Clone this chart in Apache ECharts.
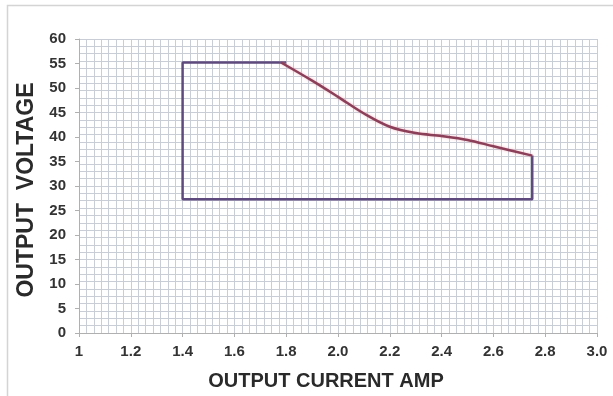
<!DOCTYPE html>
<html>
<head>
<meta charset="utf-8">
<script src="https://cdn.jsdelivr.net/npm/echarts@6/dist/echarts.min.js"></script>
<style>html,body{margin:0;padding:0;background:#fff;}#c{width:613px;height:396px;}</style>
</head>
<body>
<div id="c"></div>
<script>
var xTickLabels = ['1','1.2','1.4','1.6','1.8','2.0','2.2','2.4','2.6','2.8','3.0'];
var yTickLabels = ['0','5','10','15','20','25','30','35','40','45','50','55','60'];
var xAxisName = 'OUTPUT CURRENT AMP';
var yAxisName = 'OUTPUT  VOLTAGE';
// operating envelope: frame (top flat, left, bottom, right)
var frameTop = [[1.8, 55.2], [1.4, 55.2], [1.4, 27.3], [2.75, 27.3], [2.75, 36.2]];
// derating curve
var curve = [[1.78, 55.2], [1.9, 51.5], [2.0, 48.2], [2.1, 44.8], [2.2, 42.1], [2.3, 40.8], [2.4, 40.2], [2.5, 39.4], [2.6, 38.1], [2.75, 36.2]];

var lblFont = "'Liberation Sans',Arial,sans-serif";
var chart = echarts.init(document.getElementById('c'), null, {renderer: 'canvas'});
var gridColor = '#c9cdd6';
chart.setOption({
  animation: false,
  backgroundColor: '#fff',
  graphic: [{type: 'rect', shape: {x: 7.5, y: 5.5, width: 700, height: 500}, style: {fill: 'none', stroke: '#d4d4d4', lineWidth: 1.5}, z: -10}],
  grid: {left: 79, right: 16, top: 39, bottom: 59},
  xAxis: [{
    type: 'value', min: 1, max: 3, interval: 0.2,
    name: xAxisName, nameLocation: 'middle', nameGap: 38,
    nameTextStyle: {fontFamily: lblFont, fontWeight: 'bold', fontSize: 20, color: '#2a2a2a', padding: [0, 24, 0, 0]},
    axisLine: {show: true, lineStyle: {color: '#b0b0b0', width: 1}},
    axisTick: {show: true, length: 4, lineStyle: {color: '#b0b0b0'}},
    axisLabel: {margin: 11, fontFamily: lblFont, fontWeight: 'bold', fontSize: 15, color: '#333',
      formatter: function (v) { var i = Math.round((v - 1) / 0.2); return xTickLabels[i] || ''; }},
    splitLine: {show: false}
  }, {
    type: 'value', min: 1, max: 3, interval: 1 / 35, position: 'bottom',
    axisLine: {show: false}, axisTick: {show: false}, axisLabel: {show: false},
    splitLine: {show: true, lineStyle: {color: gridColor, width: 1}}
  }],
  yAxis: [{
    type: 'value', min: 0, max: 60, interval: 5,
    name: yAxisName, nameLocation: 'middle', nameGap: 34, nameRotate: 90,
    nameTextStyle: {fontFamily: lblFont, fontWeight: 'bold', fontSize: 23, color: '#2a2a2a', padding: [0, 8, 0, 0]},
    axisLine: {show: true, lineStyle: {color: '#b0b0b0', width: 1}},
    axisTick: {show: true, length: 4, lineStyle: {color: '#b0b0b0'}},
    axisLabel: {margin: 13, fontFamily: lblFont, fontWeight: 'bold', fontSize: 15, color: '#333',
      formatter: function (v) { return yTickLabels[Math.round(v / 5)] || ''; }},
    splitLine: {show: false}
  }, {
    type: 'value', min: 0, max: 60, interval: 1.5, position: 'left',
    axisLine: {show: false}, axisTick: {show: false}, axisLabel: {show: false},
    splitLine: {show: true, lineStyle: {color: gridColor, width: 1}}
  }],
  series: [{
    type: 'line', data: frameTop, xAxisIndex: 0, yAxisIndex: 0,
    symbol: 'none', lineStyle: {color: '#5e4a7c', width: 2.5}, z: 3
  }, {
    type: 'line', data: curve, xAxisIndex: 0, yAxisIndex: 0, smooth: 0.35,
    symbol: 'none', lineStyle: {color: '#8c3f58', width: 2.5, shadowColor: 'rgba(240,130,150,0.5)', shadowBlur: 3}, z: 4
  }]
});
</script>
</body>
</html>
